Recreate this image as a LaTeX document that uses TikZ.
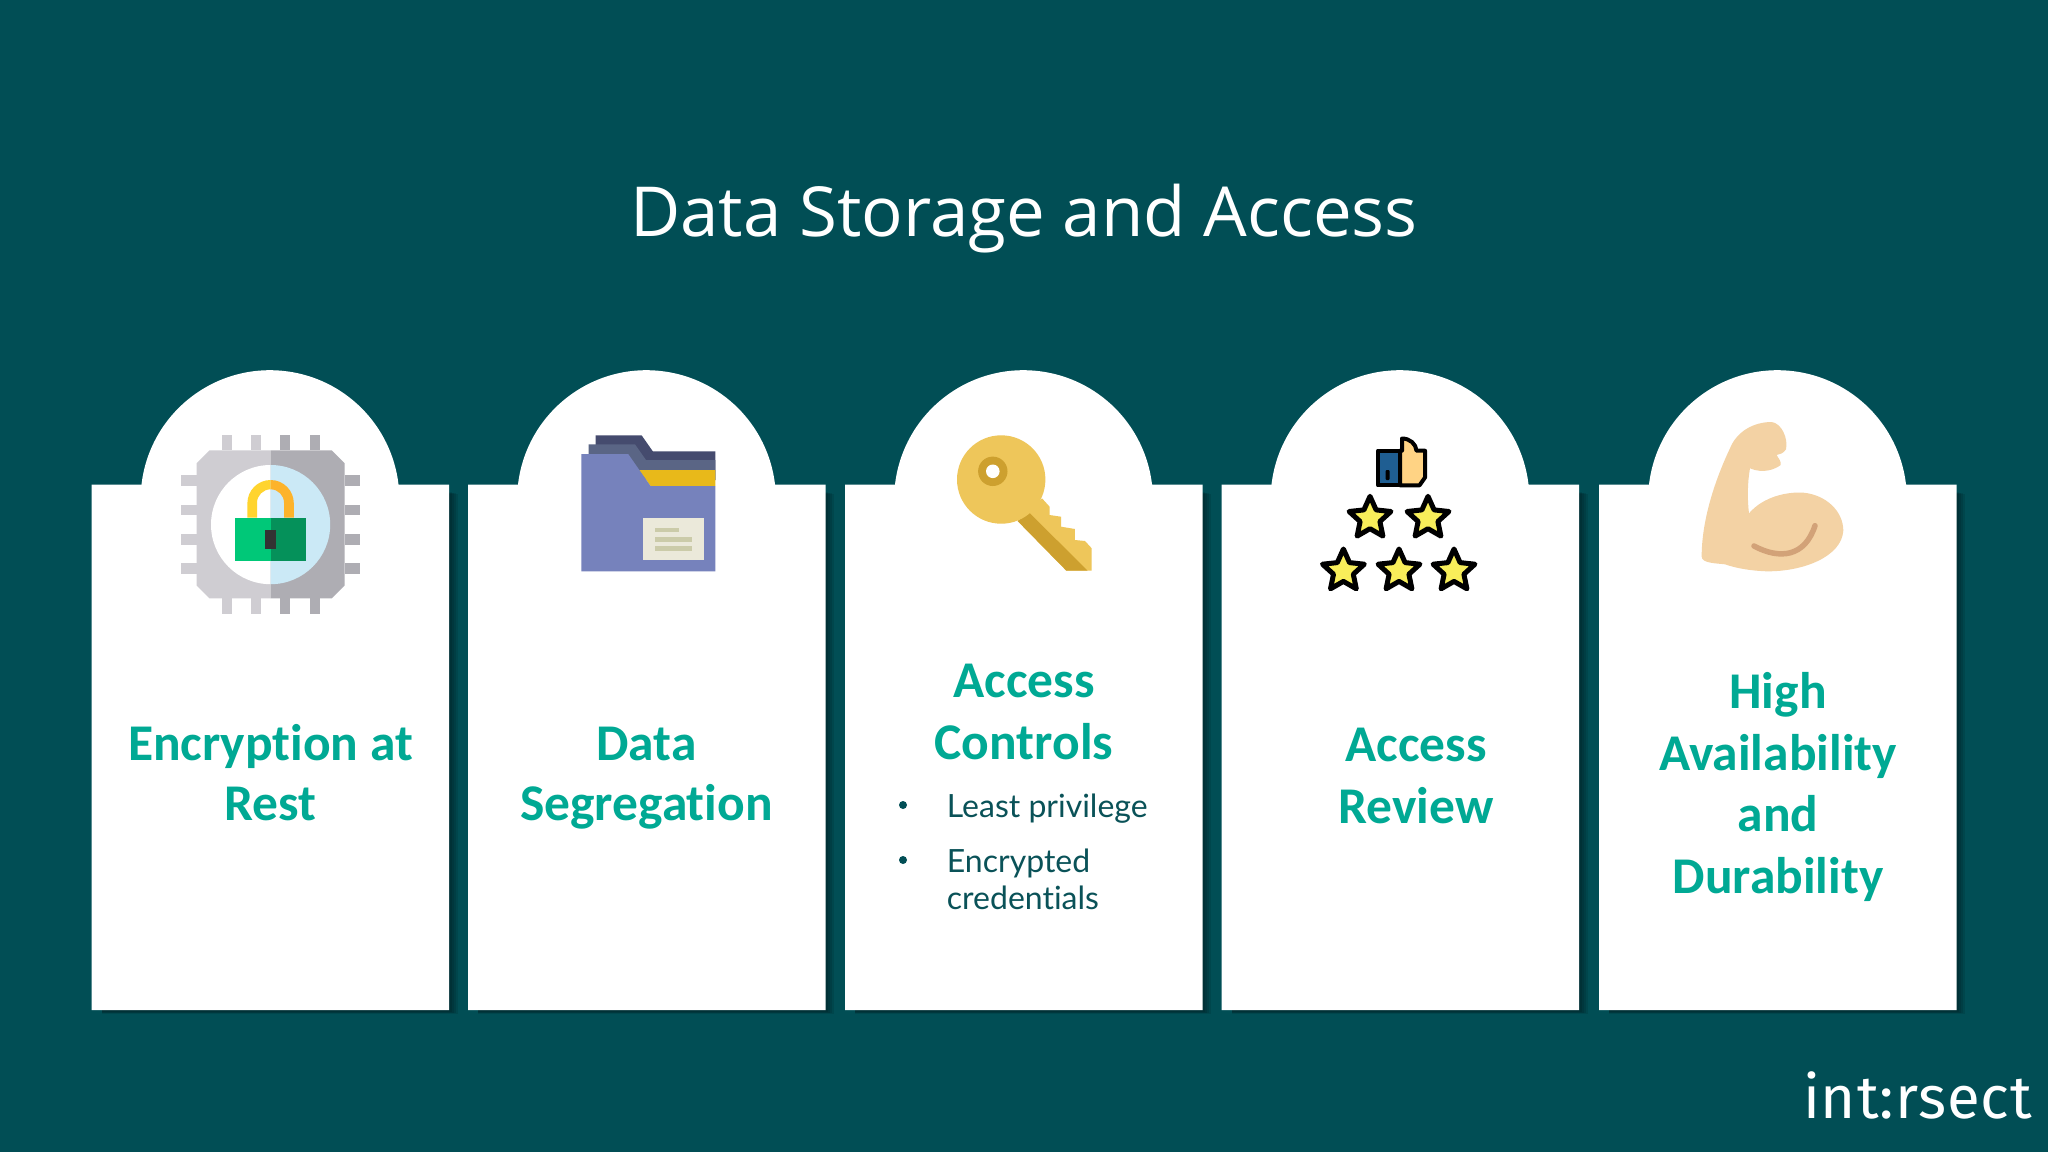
\documentclass[tikz,border=0pt]{standalone}
\usepackage{fontspec}
\setmainfont{Open Sans}
\newfontfamily\headfont[Ligatures=NoCommon]{Carlito}
\newfontfamily\bodyfont[Ligatures=NoCommon]{Lato}
\newfontfamily\logofont[LetterSpace=1.5]{Fira Sans}
\definecolor{bgc}{HTML}{014E55}
\definecolor{headc}{HTML}{00A994}
\definecolor{bodyc}{HTML}{0A5258}
\definecolor{staryel}{HTML}{F8EE5A}
\definecolor{lgc}{HTML}{CFCDD2}
\definecolor{dgc}{HTML}{AEADB3}
\definecolor{icec}{HTML}{CBE9F6}
\definecolor{shy}{HTML}{FFD42E}
\definecolor{sho}{HTML}{FDB32B}
\definecolor{lkl}{HTML}{00C878}
\definecolor{lkd}{HTML}{05915A}
\definecolor{keyh}{HTML}{333333}
\definecolor{fda}{HTML}{454B6E}
\definecolor{fmi}{HTML}{5A6585}
\definecolor{fye}{HTML}{E8B91A}
\definecolor{ffr}{HTML}{7682BC}
\definecolor{fpa}{HTML}{EBE9DA}
\definecolor{fln}{HTML}{CBCBA9}
\definecolor{kyl}{HTML}{EEC65A}
\definecolor{kyd}{HTML}{CDA02F}
\definecolor{thb}{HTML}{1F5E92}
\definecolor{ths}{HTML}{FFD384}
\definecolor{arm}{HTML}{F3D2A4}
\definecolor{armd}{HTML}{D2A278}
\newcommand{\cardat}[1]{%
  \foreach \dd/\ee in {8/3.5,6/3,4/2.5,2/1.5}{
    \fill[black,opacity=.1] (#1+10,490+\ee) rectangle (#1+358+\dd,1010+\ee);
  }
  \fill[white] (#1,484.5)--(#1+50,484.5) arc[start angle=173.3,end angle=6.7,radius=129.4pt]--(#1+357.5,484.5)--(#1+357.5,1010)--(#1,1010)--cycle;
}
\newcommand{\starat}[2]{%
  \fill[staryel,draw=black,line width=5pt,line join=round]
    (#1+0,#2-22)--(#1+6.1,#2-8.4)--(#1+20.9,#2-6.8)--(#1+9.9,#2+3.2)--(#1+12.9,#2+17.8)--(#1+0,#2+10.4)--(#1-12.9,#2+17.8)--(#1-9.9,#2+3.2)--(#1-20.9,#2-6.8)--(#1-6.1,#2-8.4)--cycle;
}
\tikzset{
  title/.style={text=white,font=\fontsize{69}{80}\selectfont,anchor=center},
  head/.style={text=headc,font=\headfont\bfseries\fontsize{51.5}{61.7}\selectfont,align=center,anchor=center},
  headt/.style={text=headc,font=\headfont\bfseries\fontsize{51.5}{60}\selectfont,align=center,anchor=center},
  body/.style={text=bodyc,font=\bodyfont\fontsize{32}{37}\selectfont,anchor=base west},
  bullet/.style={circle,fill=bgc,inner sep=0pt,minimum size=8pt},
  logo/.style={text=white,font=\logofont\fontsize{60}{70}\selectfont,anchor=base west,inner sep=0pt}
}
\begin{document}
\begin{tikzpicture}[x=1pt,y=-1pt]
\useasboundingbox (0,0) rectangle (2048,1152);
\fill[bgc] (0,0) rectangle (2048,1152);
\node[title] (ttl) at (1024,219) {Data Storage and Access};
\cardat{91.5}\cardat{468}\cardat{845}\cardat{1221.5}\cardat{1599}
% chip
\fill[lgc] (270.6,450.3)--(209.5,450.3)--(196.5,463.3)--(196.5,585.3)--(209.5,598.3)--(270.6,598.3)--cycle;
\fill[dgc] (270.6,450.3)--(331.7,450.3)--(344.7,463.3)--(344.7,585.3)--(331.7,598.3)--(270.6,598.3)--cycle;
\foreach \xa/\xb in {221.5/232,250.5/261}{\fill[lgc] (\xa,435.3) rectangle (\xb,450.3);\fill[lgc] (\xa,598.3) rectangle (\xb,613.7);}
\foreach \xa/\xb in {280/290,309.5/320}{\fill[dgc] (\xa,435.3) rectangle (\xb,450.3);\fill[dgc] (\xa,598.3) rectangle (\xb,613.7);}
\foreach \ya/\yb in {475.3/486,504.7/515,534/544.7,563.3/573.7}{\fill[lgc] (181,\ya) rectangle (196.5,\yb);\fill[dgc] (344.7,\ya) rectangle (360,\yb);}
\fill[white] (270.6,465) arc[start angle=90,end angle=270,radius=59.6pt]--cycle;
\fill[icec] (270.6,465) arc[start angle=90,end angle=-90,radius=59.6pt]--cycle;
\fill[shy] (247.4,517.7)--(247.4,503.2) arc[start angle=180,end angle=90,radius=23.2pt]--(270.6,489.3) arc[start angle=90,end angle=180,radius=13.6pt]--(257,517.7)--cycle;
\fill[sho] (293.8,517.7)--(293.8,503.2) arc[start angle=0,end angle=90,radius=23.2pt]--(270.6,489.3) arc[start angle=90,end angle=0,radius=13.4pt]--(284,517.7)--cycle;
\fill[lkl] (234.5,517.7) rectangle (270.6,561);
\fill[lkd] (270.6,517.7) rectangle (306.3,561);
\fill[keyh] (265.3,530) rectangle (276,548.7);
% folder
\fill[fda] (595.6,435.3)--(641.6,435.3)--(652.8,451.3)--(715.3,451.3)--(715.3,480)--(595.6,480)--cycle;
\fill[fmi] (588.5,444.3)--(635,444.3)--(646,460)--(715.3,460)--(715.3,480)--(588.5,480)--cycle;
\fill[fye] (639,470)--(715.3,470)--(715.3,486)--(650.5,486)--cycle;
\fill[ffr] (581.3,454)--(628.2,454)--(650.5,486)--(715.3,486)--(715.3,571.3)--(581.3,571.3)--cycle;
\fill[fpa] (643.4,518.3) rectangle (703.7,560);
\fill[fln] (655.4,527.7) rectangle (678.7,532.3);
\fill[fln] (655.4,537) rectangle (692,541.7);
\fill[fln] (655.4,546.3) rectangle (692,551);
% key
\fill[kyl] (1042,498.3)--(1049.6,506.7)--(1049.6,515)--(1061,516.7)--(1061,526.7)--(1074.9,529)--(1074.9,540)--(1085,541)--(1091.7,548.3)--(1091.7,570.7)--(1066.4,570.7)--(1017.6,521)--cycle;
\fill[kyd] (1017.6,521)--(1029.4,512.7)--(1087.5,570.7)--(1066.4,570.7)--cycle;
\fill[kyl] (1001.2,479.5) circle[radius=44.2pt];
\fill[kyd] (992.8,471.3) circle[radius=14.7pt];
\fill[white] (992.8,471.3) circle[radius=6.8pt];
% thumb and stars
\fill[thb,draw=black,line width=4pt,line join=round] (1377.8,450.7) rectangle (1400,485.3);
\fill[black,rounded corners=1pt] (1385.5,470) rectangle (1389.5,480);
\fill[ths,draw=black,line width=4pt,line join=round] (1400,450.7)--(1402,450.7)--(1402,438.5) .. controls (1410,438.5) and (1416,444) .. (1416.5,450.7)--(1425,450.7)--(1425,477.5)--(1419.5,485.3)--(1400,485.3)--cycle;
\starat{1370}{518.3}\starat{1428}{518.3}
\starat{1343.4}{571}\starat{1399}{571}\starat{1454}{571}
% arm
\begin{scope}[shift={(1600,360)},x=0.3333pt,y=-0.3333pt]
\fill[arm] (305,590) .. controls (305,480) and (345,360) .. (390,265) .. controls (410,215) and (460,186) .. (515,186) .. controls (545,190) and (565,235) .. (558,268) .. controls (550,280) and (540,283) .. (530,285) .. controls (535,295) and (545,305) .. (542,315) .. controls (525,328) and (490,342) .. (450,325) .. controls (442,370) and (442,420) .. (447,460) .. controls (490,410) and (560,395) .. (610,398) .. controls (680,405) and (730,455) .. (730,512) .. controls (725,590) and (610,635) .. (500,634) .. controls (450,632) and (410,625) .. (375,613) .. controls (350,610) and (305,610) .. (305,590) -- cycle;
\draw[armd,line width=5.5pt,line cap=round] (462,558) .. controls (540,600) and (615,590) .. (645,497);
\end{scope}
% text
\node[headt] (h1) at (270.5,773) {Encryption at\\Rest};
\node[headt] (h2) at (646.5,778) {Data\\Segregation};
\node[head] (h3) at (1024,712) {Access\\Controls};
\node[head] (h4) at (1416,776) {Access\\Review};
\node[head] (h5) at (1778,787) {High\\Availability\\and\\Durability};
\node[bullet] (b1) at (903,805) {};
\node[bullet] (b2) at (903,860) {};
\node[body,inner sep=0pt] (t1) at (946.7,817.3) {Least privilege};
\node[body,inner sep=0pt] (t2) at (946.7,872) {Encrypted};
\node[body,inner sep=0pt] (t3) at (946.7,909.3) {credentials};
\node[logo] (lg) at (1803,1118.5) {int:rsect};
\end{tikzpicture}
\end{document}
